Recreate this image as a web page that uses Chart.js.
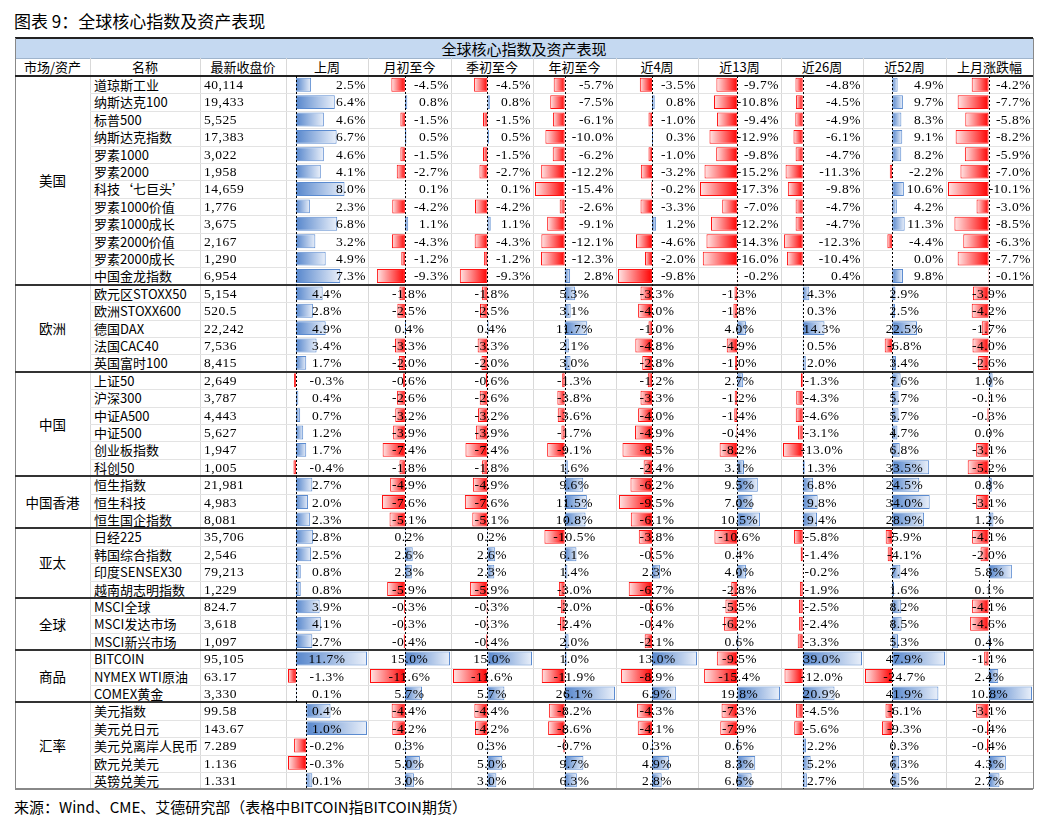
<!DOCTYPE html>
<html><head><meta charset="utf-8">
<script src="https://cdn.jsdelivr.net/npm/chart.js@4.4.1/dist/chart.umd.min.js"></script>
<style>
body{margin:0;width:1048px;height:824px;background:#fff;position:relative;overflow:hidden;font-family:"Liberation Serif","Noto Sans CJK SC",serif;color:#000}
.a{position:absolute;white-space:nowrap;box-sizing:border-box}
.t{z-index:3;font-size:13.5px;line-height:17.4px}
.ln{z-index:0}
canvas{position:absolute;z-index:1}
</style></head><body>
<script>
const marketNames=['美国','欧洲','中国','中国香港','亚太','全球','商品','汇率'];
const marketSizes=[12,5,6,3,4,3,3,5];
const columnTitles=['上周','月初至今','季初至今','年初至今','近4周','近13周','近26周','近52周','上月涨跌幅'];
const names=['道琼斯工业','纳斯达克100','标普500','纳斯达克指数','罗素1000','罗素2000','科技‘七巨头’','罗素1000价值','罗素1000成长','罗素2000价值','罗素2000成长','中国金龙指数',
'欧元区STOXX50','欧洲STOXX600','德国DAX','法国CAC40','英国富时100',
'上证50','沪深300','中证A500','中证500','创业板指数','科创50',
'恒生指数','恒生科技','恒生国企指数',
'日经225','韩国综合指数','印度SENSEX30','越南胡志明指数',
'MSCI全球','MSCI发达市场','MSCI新兴市场',
'BITCOIN','NYMEX WTI原油','COMEX黄金',
'美元指数','美元兑日元','美元兑离岸人民币','欧元兑美元','英镑兑美元'];
const closes=['40,114','19,433','5,525','17,383','3,022','1,958','14,659','1,776','3,675','2,167','1,290','6,954',
'5,154','520.5','22,242','7,536','8,415',
'2,649','3,787','4,443','5,627','1,947','1,005',
'21,981','4,983','8,081',
'35,706','2,546','79,213','1,229',
'824.7','3,618','1,097',
'95,105','63.17','3,330',
'99.58','143.67','7.289','1.136','1.331'];
const wk=[2.5,6.4,4.6,6.7,4.6,4.1,8.0,2.3,6.8,3.2,4.9,7.3, 4.4,2.8,4.9,3.4,1.7, -0.3,0.4,0.7,1.2,1.7,-0.4, 2.7,2.0,2.3, 2.8,2.5,0.8,0.8, 3.9,4.1,2.7, 11.7,-1.3,0.1, 0.4,1.0,-0.2,-0.3,0.1];
const mtd=[-4.5,0.8,-1.5,0.5,-1.5,-2.7,0.1,-4.2,1.1,-4.3,-1.2,-9.3, -1.8,-2.5,0.4,-3.3,-2.0, -0.6,-2.6,-3.2,-3.9,-7.4,-1.8, -4.9,-7.6,-5.1, 0.2,2.6,2.3,-5.9, -0.3,-0.3,-0.4, 15.0,-11.6,5.7, -4.4,-4.2,0.3,5.0,3.0];
const qtd=[-4.5,0.8,-1.5,0.5,-1.5,-2.7,0.1,-4.2,1.1,-4.3,-1.2,-9.3, -1.8,-2.5,0.4,-3.3,-2.0, -0.6,-2.6,-3.2,-3.9,-7.4,-1.8, -4.9,-7.6,-5.1, 0.2,2.6,2.3,-5.9, -0.3,-0.3,-0.4, 15.0,-11.6,5.7, -4.4,-4.2,0.3,5.0,3.0];
const ytd=[-5.7,-7.5,-6.1,-10.0,-6.2,-12.2,-15.4,-2.6,-9.1,-12.1,-12.3,2.8, 5.3,3.1,11.7,2.1,3.0, -1.3,-3.8,-3.6,-1.7,-9.1,1.6, 9.6,11.5,10.8, -10.5,6.1,1.4,-3.0, -2.0,-2.4,2.0, 1.0,-11.9,26.1, -8.2,-8.6,-0.7,9.7,6.3];
const w4=[-3.5,0.8,-1.0,0.3,-1.0,-3.2,-0.2,-3.3,1.2,-4.6,-2.0,-9.8, -3.3,-4.0,-1.0,-4.8,-2.8, -1.2,-3.3,-4.0,-4.9,-8.5,-2.4, -6.2,-9.5,-6.1, -3.8,-0.5,2.3,-6.7, -0.6,-0.4,-2.1, 13.0,-8.9,6.9, -4.3,-4.1,0.3,4.9,2.8];
const w13=[-9.7,-10.8,-9.4,-12.9,-9.8,-15.2,-17.3,-7.0,-12.2,-14.3,-16.0,-0.2, -1.3,-1.8,4.0,-4.9,-1.0, 2.7,-1.2,-1.4,-0.4,-8.2,3.1, 9.5,7.0,10.5, -10.6,0.4,4.0,-2.8, -5.5,-6.2,0.6, -9.5,-15.4,19.8, -7.3,-7.9,0.6,8.3,6.6];
const w26=[-4.8,-4.5,-4.9,-6.1,-4.7,-11.3,-9.8,-4.7,-4.7,-12.3,-10.4,0.4, 4.3,0.3,14.3,0.5,2.0, -1.3,-4.3,-4.6,-3.1,-13.0,1.3, 6.8,9.8,9.4, -5.8,-1.4,-0.2,-1.9, -2.5,-2.4,-3.3, 39.0,-12.0,20.9, -4.5,-5.6,2.2,5.2,2.7];
const w52=[4.9,9.7,8.3,9.1,8.2,-2.2,10.6,4.2,11.3,-4.4,0.0,9.8, 2.9,2.5,22.5,-6.8,3.4, 7.6,5.7,5.7,4.7,6.8,33.5, 24.5,34.0,28.9, -5.9,-4.1,7.4,1.6, 8.2,8.5,5.3, 47.9,-24.7,41.9, -6.1,-9.3,0.3,6.3,6.5];
const lastM=[-4.2,-7.7,-5.8,-8.2,-5.9,-7.0,-10.1,-3.0,-8.5,-6.3,-7.7,-0.1, -3.9,-4.2,-1.7,-4.0,-2.6, 1.0,-0.1,-0.3,0.0,-3.1,-5.2, 0.8,-3.1,1.2, -4.1,-2.0,5.8,0.1, -4.1,-4.6,0.4, -1.1,2.4,10.8, -3.1,-0.4,-0.4,4.3,2.7];
const series=[wk,mtd,qtd,ytd,w4,w13,w26,w52,lastM];

const X=[15,90,200,286,368,451,533,616,698,781,863,946,1033];
const TOP=38, HB=58, DT=76, RH=17.4, N=names.length, BOT=DT+N*RH;
const body=document.body;
function box(x,y,w,h,css,cls,txt){const d=document.createElement('div');d.className='a '+(cls||'');d.style.cssText=`left:${x}px;top:${y}px;width:${w}px;height:${h}px;`+(css||'');if(txt!==undefined)d.textContent=txt;body.appendChild(d);return d;}

box(14,8,600,26,'font-size:17px;line-height:26px;font-family:"Noto Sans CJK SC";','t','图表 9：全球核心指数及资产表现');
box(X[0],TOP,X[12]-X[0],HB-TOP,'background:#c5d9f1;','ln');
box(X[0],HB,X[12]-X[0],1,'background:#9fb4cc;','ln');
box(X[0],TOP+1,X[12]-X[0],HB-TOP-1,'text-align:center;font-size:15px;line-height:20px;font-family:"Noto Sans CJK SC";','t','全球核心指数及资产表现');
box(X[0],TOP-1,X[12]-X[0],2,'background:#222;','ln');
const heads=['市场/资产','名称','最新收盘价'].concat(columnTitles);
heads.forEach((h,i)=>box(X[i],HB,X[i+1]-X[i],DT-HB,'text-align:center;font-size:13px;line-height:18px;font-family:"Noto Sans CJK SC";','t',h));
for(let i=0;i<X.length;i++) box(X[i],HB,1,BOT-HB,'background:#d9d9d9;','ln');
box(X[0],TOP,1,BOT-TOP,'background:#888;','ln');
box(X[12],TOP,1,BOT-TOP,'background:#888;','ln');
for(let r=1;r<N;r++) box(X[1],DT+r*RH,X[12]-X[1],1,'background:#e3e3e3;','ln');
box(X[0],DT-1,X[12]-X[0],2,'background:#222;','ln');
let start=0;
marketNames.forEach((m,k)=>{
  const y=DT+start*RH, h=marketSizes[k]*RH;
  box(X[0],y,X[1]-X[0],h,`text-align:center;line-height:${h}px;font-family:"Noto Sans CJK SC";`,'t',m);
  box(X[0],y+h-1,X[12]-X[0],2,'background:'+(k===marketNames.length-1?'#888':'#333')+';','ln');
  start+=marketSizes[k];
});
const isUS=r=>r<marketSizes[0];
for(let r=0;r<N;r++){
  const y=DT+r*RH;
  box(X[1]+4,y,X[2]-X[1]-4,RH,'font-family:"Noto Sans CJK SC";font-size:13px;','t',names[r]);
  box(X[2]+4,y,X[3]-X[2]-4,RH,'letter-spacing:0.5px;','t',closes[r]);
  series.forEach((s,c)=>{
    const align=isUS(r)?'text-align:right;padding-right:2px;':'text-align:center;';
    box(X[3+c],y,X[4+c]-X[3+c],RH,align+'letter-spacing:0.5px;','t',s[r].toFixed(1)+'%');
  });
}

const axisPlugin={id:'axis0',afterDatasetsDraw(ch){const xs=ch.scales.x;const x=Math.round(xs.getPixelForValue(0))+0.5;const c=ch.ctx;c.save();c.strokeStyle='#000';c.lineWidth=1;c.setLineDash([2,2]);c.beginPath();c.moveTo(x,0);c.lineTo(x,ch.height);c.stroke();c.restore();}};
function barFill(ctx){
  const ch=ctx.chart,xs=ch.scales&&ch.scales.x;const v=ctx.raw;
  const solid=v<0?'#ff3030':'#6b96d6';
  if(!xs||typeof v!=='number')return solid;
  const x0=xs.getPixelForValue(0),x1=xs.getPixelForValue(v);
  if(!isFinite(x0)||!isFinite(x1)||Math.abs(x1-x0)<1)return solid;
  const g=ch.ctx.createLinearGradient(x0,0,x1,0);
  if(v>=0){g.addColorStop(0,'#5686cc');g.addColorStop(1,'#eaf0fa');}else{g.addColorStop(0,'#ff0000');g.addColorStop(1,'#ffe6e6');}
  return g;
}
function makeChart(col,r0,r1){
  const vals=series[col].slice(r0,r1);
  const mn=Math.min(0,...vals), mx=Math.max(0,...vals);
  const cv=document.createElement('canvas');
  const w=X[4+col]-X[3+col]-1, h=Math.round((r1-r0)*RH);
  cv.width=w;cv.height=h;
  cv.style.left=(X[3+col]+1)+'px';cv.style.top=(DT+r0*RH)+'px';
  cv.style.width=w+'px';cv.style.height=h+'px';
  body.appendChild(cv);
  new Chart(cv,{type:'bar',
    data:{labels:names.slice(r0,r1),datasets:[{data:vals,
      backgroundColor:barFill,
      borderColor:(ctx)=>ctx.raw<0?'#ff1010':'#5b8bd0',borderWidth:1,borderSkipped:false,
      categoryPercentage:1,barPercentage:0.8}]},
    options:{indexAxis:'y',responsive:false,animation:false,devicePixelRatio:1,
      layout:{padding:{left:1,right:1,top:0,bottom:0}},
      plugins:{legend:{display:false},tooltip:{enabled:false}},
      scales:{x:{display:false,min:mn,max:mx},y:{display:false,offset:true}}},
    plugins:[axisPlugin]});
}
const fxStart=N-marketSizes[marketSizes.length-1];
makeChart(0,0,fxStart);makeChart(0,fxStart,N);
for(let c=1;c<series.length;c++) makeChart(c,0,N);

box(14,796,900,22,'font-size:15px;line-height:22px;font-family:"Noto Sans CJK SC";','t','来源：Wind、CME、艾德研究部（表格中BITCOIN指BITCOIN期货）');
</script>
</body></html>
